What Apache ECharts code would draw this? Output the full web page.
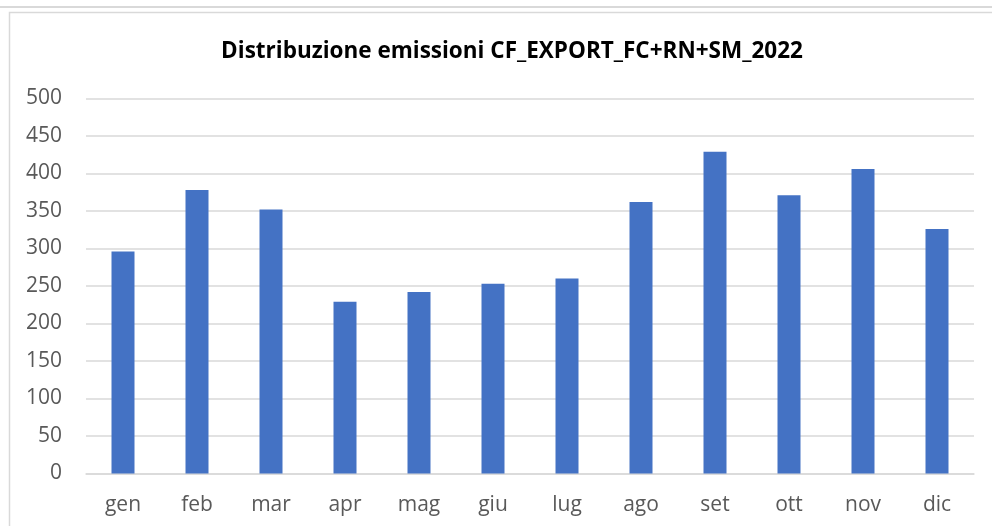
<!DOCTYPE html>
<html><head><meta charset="utf-8">
<script src="https://cdn.jsdelivr.net/npm/echarts@6/dist/echarts.min.js"></script>
<style>html,body{margin:0;padding:0;background:#fff}#c{width:992px;height:526px}</style>
</head><body><div id="c"></div>
<script>
const chartTitle = 'Distribuzione emissioni CF_EXPORT_FC+RN+SM_2022';
const categories = ['gen','feb','mar','apr','mag','giu','lug','ago','set','ott','nov','dic'];
const values = [296, 378, 352, 229, 242, 253, 260, 362, 429, 371, 406, 326];
const yTicks = [0, 50, 100, 150, 200, 250, 300, 350, 400, 450, 500];

const chart = echarts.init(document.getElementById('c'), null, {renderer: 'canvas'});
chart.setOption({
  animation: false,
  backgroundColor: '#fff',
  title: {
    text: chartTitle, left: 507, top: 35, textAlign: 'center',
    textStyle: {fontFamily: 'Open Sans', fontWeight: 'bold', fontSize: 22.5, color: '#000'}
  },
  graphic: [
    {type: 'line', shape: {x1: 0, y1: 7, x2: 992, y2: 7}, style: {stroke: '#d9d9d9', lineWidth: 2}},
    {type: 'rect', shape: {x: 9.5, y: 12.5, width: 1100, height: 600}, style: {fill: null, stroke: '#d9d9d9', lineWidth: 1.5}}
  ],
  grid: {left: 86, right: 18, top: 98.5, bottom: 52.5, containLabel: false},
  xAxis: {
    type: 'category', data: categories,
    axisLine: {show: true, lineStyle: {color: '#d9d9d9', width: 1.5}},
    axisTick: {show: false},
    axisLabel: {color: '#595959', fontFamily: 'Open Sans', fontSize: 21, margin: 21}
  },
  yAxis: {
    type: 'value', min: yTicks[0], max: yTicks[yTicks.length - 1], interval: 50,
    axisLine: {show: false}, axisTick: {show: false},
    splitLine: {lineStyle: {color: '#d9d9d9', width: 1.5}},
    axisLabel: {color: '#595959', fontFamily: 'Open Sans', fontSize: 21, margin: 24}
  },
  series: [{
    type: 'bar', data: values, barWidth: 23,
    itemStyle: {color: '#4472c4'}
  }]
});
</script></body></html>
